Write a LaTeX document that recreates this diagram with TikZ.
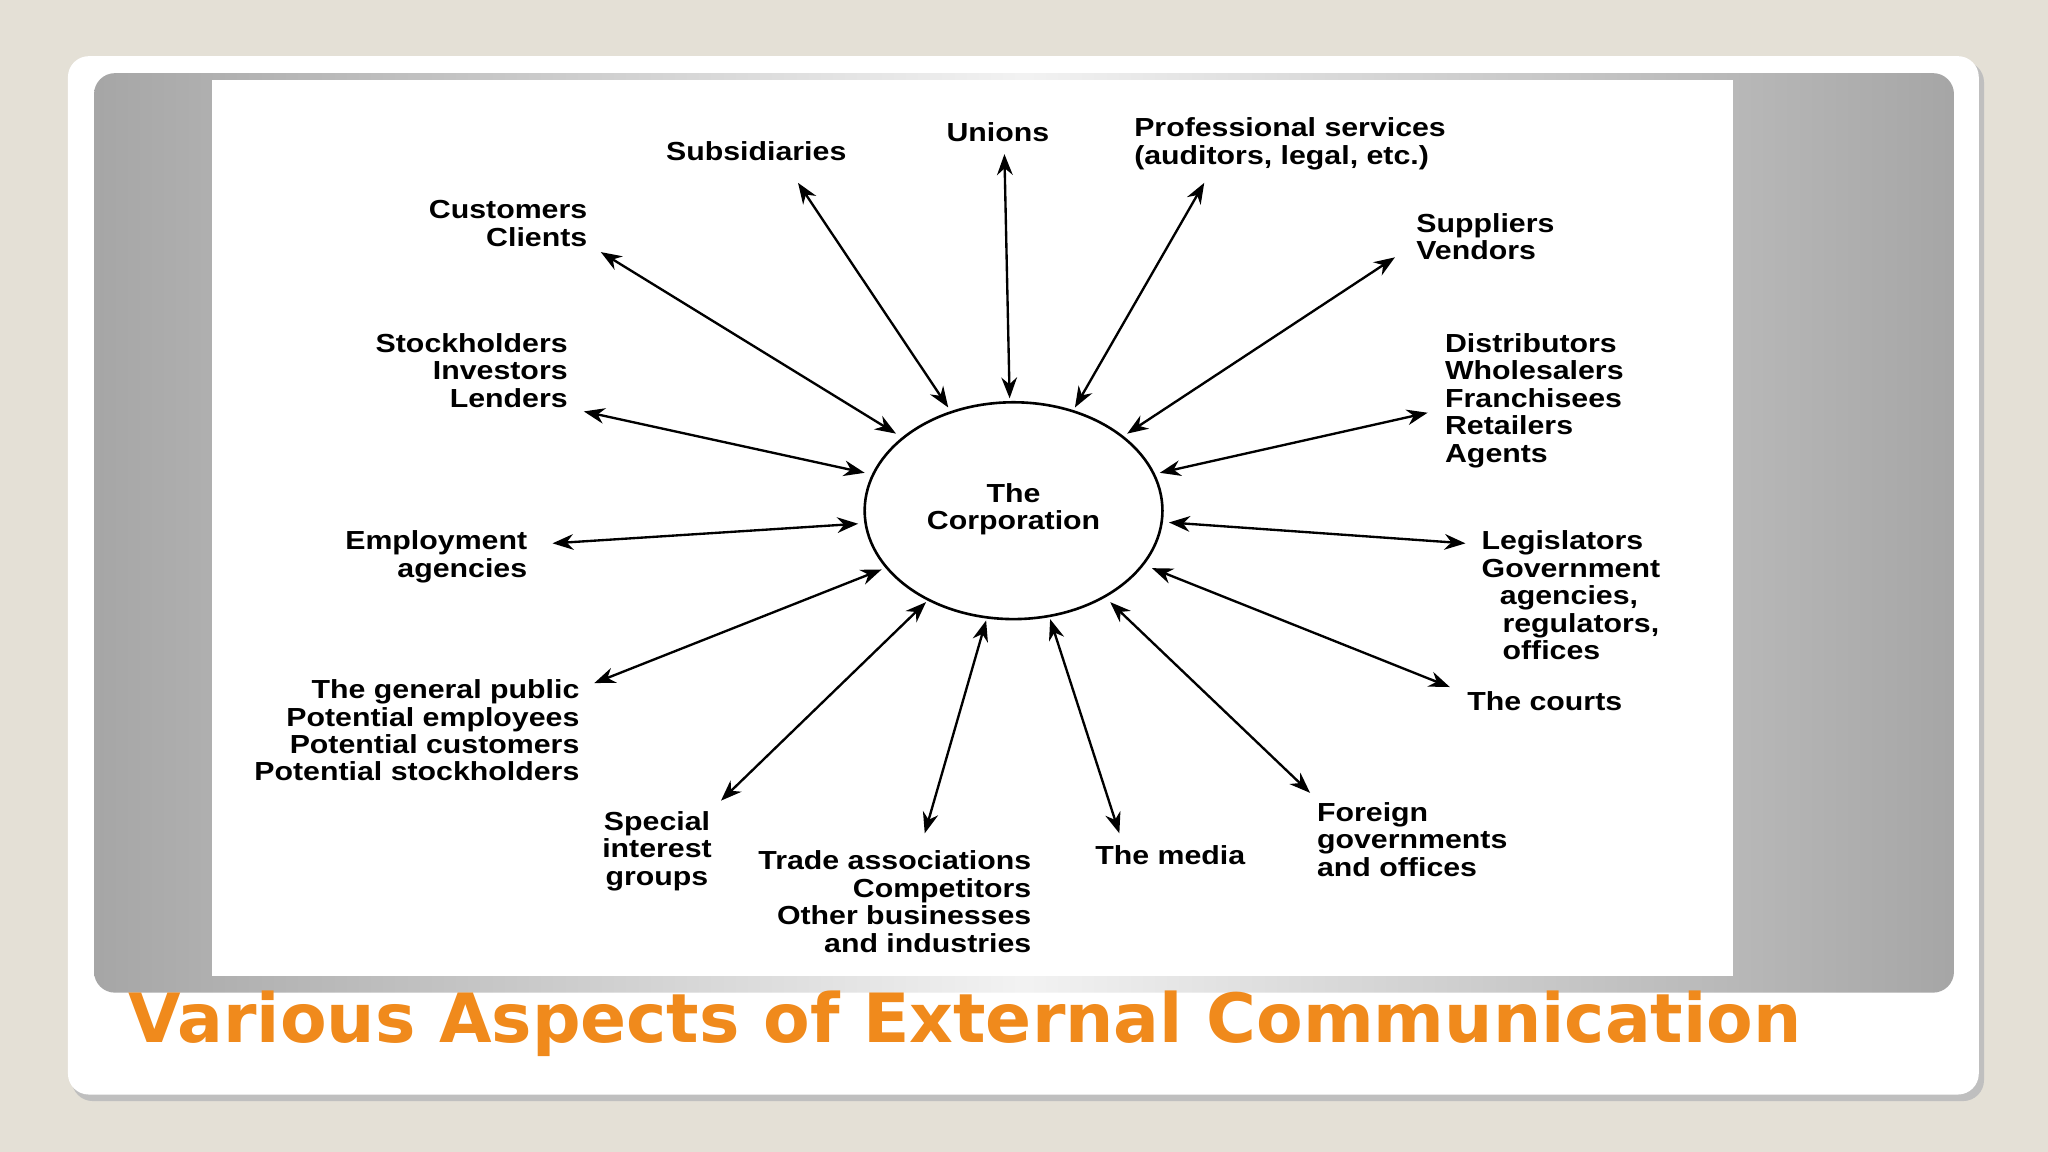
\documentclass[tikz,border=0pt]{standalone}
\usepackage{fontspec}
\setmainfont{Liberation Sans}
\newfontfamily\lblfont[FakeStretch=1.16]{Liberation Sans}
\newfontfamily\titlefont{DejaVu Sans}
\usetikzlibrary{arrows.meta,shapes.geometric}
\definecolor{bgc}{HTML}{E4E0D6}
\definecolor{titleorange}{HTML}{F08A1C}
\begin{document}
\begin{tikzpicture}[x=0.5pt,y=-0.5pt,
  lbl/.style={inner sep=0pt,font=\lblfont\fontsize{10}{10.5}\selectfont\bfseries},
  link/.style={{Stealth[length=8pt,width=6pt]}-{Stealth[length=8pt,width=6pt]},line width=0.9pt}]
\useasboundingbox (0,0) rectangle (1568,882);
\fill[bgc] (0,0) rectangle (1568,882);
\fill[black!25,rounded corners=8pt] (55,47) rectangle (1519,843);
\fill[white,rounded corners=8pt] (52,43) rectangle (1515,838);
\shade[rounded corners=8pt,left color=black!35,right color=black!35,middle color=black!5] (72,56) rectangle (1496,760);
\fill[white] (162,61) rectangle (1327,747);
\node[font=\titlefont\fontsize{26}{26}\selectfont\bfseries,text=titleorange,anchor=base west,inner sep=0pt] (title) at (98,798) {Various Aspects of External Communication};

\node[draw,line width=1pt,ellipse,minimum width=114pt,minimum height=83pt,inner sep=0pt] (corp) at (776,391) {};
\node[lbl,align=center] (corptxt) at (776,390) {The\\Corporation};

\node[lbl] (unions) at (764,101) {Unions};
\node[lbl] (subs) at (579,116) {Subsidiaries};
\node[lbl,anchor=north west,align=left] (prof) at (868,90) {Professional services\\(auditors, legal, etc.)};
\node[lbl,anchor=north east,align=right] (cust) at (450,153) {Customers\\Clients};
\node[lbl,anchor=north west,align=left] (supp) at (1084,163) {Suppliers\\Vendors};
\node[lbl,anchor=north east,align=right] (stock) at (435,255) {Stockholders\\Investors\\Lenders};
\node[lbl,anchor=north west,align=left] (dist) at (1106,255) {Distributors\\Wholesalers\\Franchisees\\Retailers\\Agents};
\node[lbl,anchor=north east,align=right] (empl) at (404,406) {Employment\\agencies};
\node[lbl,anchor=north west,align=left] (legis) at (1134,406) {Legislators\\Government\\\hspace*{7pt}agencies,\\\hspace*{8pt}regulators,\\\hspace*{8pt}offices};
\node[lbl,anchor=west] (courts) at (1123,537) {The courts};
\node[lbl,anchor=north east,align=right] (public) at (444,520) {The general public\\Potential employees\\Potential customers\\Potential stockholders};
\node[lbl,align=center,anchor=north] (special) at (503,621) {Special\\interest\\groups};
\node[lbl,anchor=north east,align=right] (trade) at (790,651) {Trade associations\\Competitors\\Other businesses\\and industries};
\node[lbl] (media) at (896,655) {The media};
\node[lbl,anchor=north west,align=left] (foreign) at (1008,614) {Foreign\\governments\\and offices};

\coordinate (uA) at (769,118); \coordinate (uB) at (773,305);
\coordinate (sA) at (611,140); \coordinate (sB) at (726,312);
\coordinate (pA) at (922,140); \coordinate (pB) at (823,312);
\coordinate (cA) at (460,193); \coordinate (cB) at (686,332);
\coordinate (vA) at (1068,197); \coordinate (vB) at (863,332);
\coordinate (kA) at (447,315); \coordinate (kB) at (662,362);
\coordinate (dA) at (1093,316); \coordinate (dB) at (888,362);
\coordinate (eA) at (423,416); \coordinate (eB) at (657,401);
\coordinate (lA) at (1122,416); \coordinate (lB) at (895,400);
\coordinate (gA) at (455,523); \coordinate (gB) at (675,436);
\coordinate (tA) at (1110,526); \coordinate (tB) at (882,435);
\coordinate (iA) at (552,613); \coordinate (iB) at (709,461);
\coordinate (aA) at (708,638); \coordinate (aB) at (755,475);
\coordinate (mA) at (857,638); \coordinate (mB) at (804,474);
\coordinate (fA) at (1003,607); \coordinate (fB) at (850,461);
\foreach \p in {u,s,p,c,v,k,d,e,l,g,t,i,a,m,f}{\draw[link] (\p A) -- (\p B);}
\end{tikzpicture}
\end{document}
